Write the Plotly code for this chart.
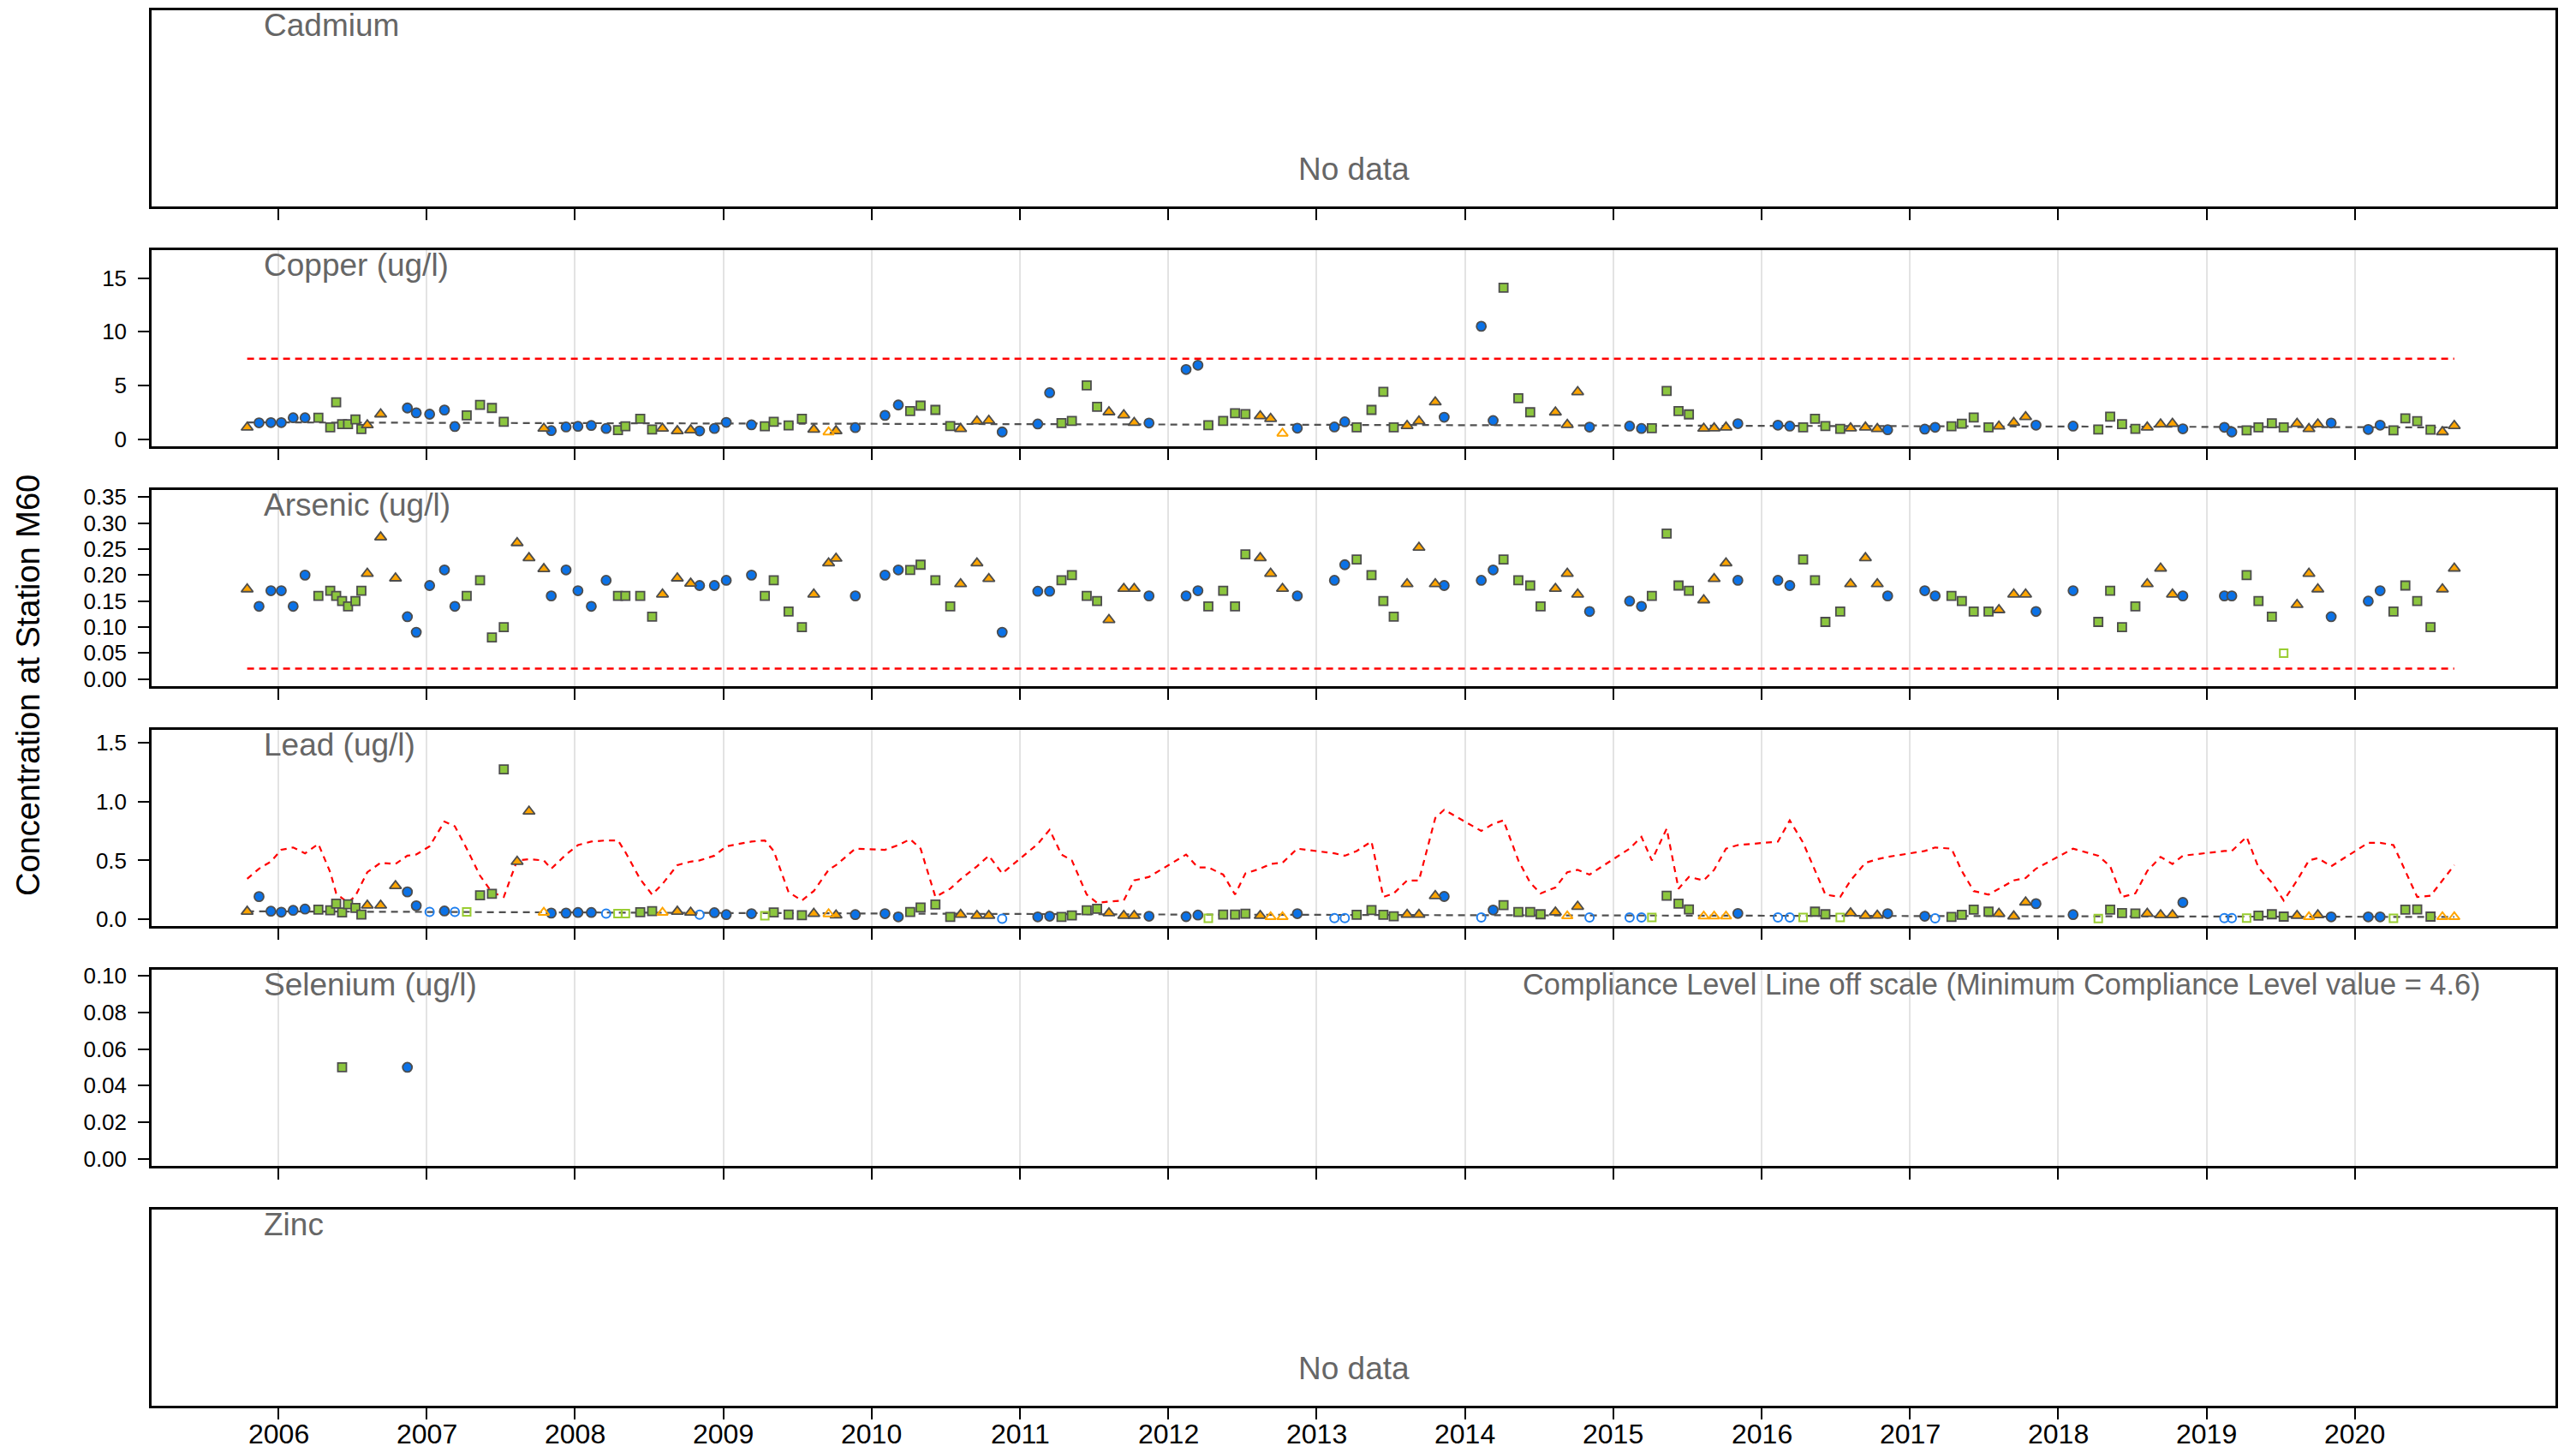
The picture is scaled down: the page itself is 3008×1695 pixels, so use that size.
import plotly.graph_objects as go

# ---------------- data ----------------
panel_names = ["Cadmium", "Copper (ug/l)", "Arsenic (ug/l)", "Lead (ug/l)", "Selenium (ug/l)", "Zinc"]
year_ticks = [2006, 2007, 2008, 2009, 2010, 2011, 2012, 2013, 2014, 2015, 2016, 2017, 2018, 2019, 2020]

dates = [2005.79, 2005.87, 2005.95, 2006.02, 2006.10, 2006.18,
         2006.27, 2006.35, 2006.39, 2006.43, 2006.47, 2006.52, 2006.56,
         2006.60, 2006.69, 2006.79,
         2006.87, 2006.93, 2007.02, 2007.12, 2007.19,
         2007.27, 2007.36, 2007.44, 2007.52,
         2007.61, 2007.69, 2007.79,
         2007.84, 2007.94, 2008.02, 2008.11, 2008.21,
         2008.29, 2008.34, 2008.44, 2008.52,
         2008.59, 2008.69, 2008.78,
         2008.84, 2008.94, 2009.02, 2009.19,
         2009.28, 2009.34, 2009.44, 2009.53,
         2009.61, 2009.71, 2009.76,
         2009.89, 2010.09, 2010.18,
         2010.26, 2010.33, 2010.43, 2010.53,
         2010.60, 2010.71, 2010.79,
         2010.88, 2011.12, 2011.20,
         2011.28, 2011.35, 2011.45, 2011.52,
         2011.60, 2011.70, 2011.77,
         2011.87, 2012.12, 2012.20,
         2012.27, 2012.37, 2012.45, 2012.52,
         2012.62, 2012.69, 2012.77,
         2012.87, 2013.12, 2013.19,
         2013.27, 2013.37, 2013.45, 2013.52,
         2013.61, 2013.69, 2013.80,
         2013.86, 2014.11, 2014.19,
         2014.26, 2014.36, 2014.44, 2014.51,
         2014.61, 2014.69, 2014.76,
         2014.84, 2015.11, 2015.19,
         2015.26, 2015.36, 2015.44, 2015.51,
         2015.61, 2015.68, 2015.76,
         2015.84, 2016.11, 2016.19,
         2016.28, 2016.36, 2016.43, 2016.53,
         2016.60, 2016.70, 2016.78,
         2016.85, 2017.10, 2017.17,
         2017.28, 2017.35, 2017.43, 2017.53,
         2017.60, 2017.70, 2017.78,
         2017.85, 2018.10,
         2018.27, 2018.35, 2018.43, 2018.52,
         2018.60, 2018.69, 2018.77,
         2018.84, 2019.12, 2019.17,
         2019.27, 2019.35, 2019.44, 2019.52,
         2019.61, 2019.69, 2019.75,
         2019.84, 2020.09, 2020.17,
         2020.26, 2020.34, 2020.42, 2020.51,
         2020.59, 2020.67]

# sample symbol: c = circle, s = square, t = triangle
sample_symbol = ("t ccccc sssssss ttt ccccc ssss ttt ccccc ssss ttt cccc ssss ttt "
                 "ccc ssss ttt ccc ssss ttt ccc ssss ttt ccc ssss ttt "
                 "ccc ssss ttt ccc ssss ttt ccc ssss ttt ccc ssss ttt "
                 "cc ssss ttt ccc ssss ttt ccc ssss tt").replace(" ", "")

copper = [1.10, 1.53, 1.55, 1.55, 2.00, 2.00,
          2.00, 1.10, 3.44, 1.40, 1.40, 1.85, 0.94,
          1.32, 2.33, None,
          2.91, 2.46, 2.33, 2.72, 1.18,
          2.22, 3.20, 2.91, 1.63,
          None, None, 1.00,
          0.80, 1.14, 1.20, 1.28, 1.00,
          0.85, 1.20, 1.91, 0.91,
          1.00, 0.77, 0.85,
          0.77, 1.00, 1.57, 1.34,
          1.20, 1.62, 1.28, 1.91,
          0.91, 0.66, 0.77,
          1.08, 2.22, 3.19,
          2.62, 3.13, 2.73, 1.22,
          0.97, 1.68, 1.74,
          0.68, 1.42, 4.33,
          1.51, 1.71, 5.01, 3.02,
          2.53, 2.25, 1.54,
          1.51, 6.49, 6.89,
          1.31, 1.71, 2.42, 2.34,
          2.16, 1.91, 0.54,
          1.03, 1.14, 1.62,
          1.11, 2.73, 4.41, 1.11,
          1.25, 1.68, 3.45,
          2.05, 10.51, 1.74,
          14.10, 3.81, 2.51, None,
          2.51, 1.35, 4.40,
          1.13, 1.22, 1.00,
          1.03, 4.50, 2.62, 2.31,
          1.00, 1.03, 1.11,
          1.45, 1.31, 1.22,
          1.11, 1.91, 1.22, 0.97,
          1.03, 1.11, 0.97,
          0.88, 0.94, 1.11,
          1.20, 1.45, 2.02, 1.11,
          1.20, 1.54, 2.08,
          1.31, 1.22,
          0.91, 2.11, 1.40, 0.97,
          1.11, 1.40, 1.45,
          0.97, 1.11, 0.68,
          0.83, 1.11, 1.48, 1.11,
          1.45, 0.97, 1.40,
          1.51, 0.91, 1.31,
          0.83, 1.94, 1.68, 0.88,
          0.68, 1.25]
copper_below_lod = [50, 81]          # sample numbers (1-based) plotted open
copper_compliance = 7.5
copper_trend_x = [2005.79, 2020.67]
copper_trend_y = [1.57, 1.10]

arsenic = [0.173, 0.140, 0.170, 0.170, 0.140, 0.200,
           0.160, 0.170, 0.160, 0.150, 0.140, 0.150, 0.170,
           0.203, 0.273, 0.194,
           0.120, 0.090, 0.180, 0.210, 0.140,
           0.160, 0.190, 0.080, 0.100,
           0.262, 0.233, 0.212,
           0.160, 0.210, 0.170, 0.140, 0.190,
           0.160, 0.160, 0.160, 0.120,
           0.163, 0.194, 0.184,
           0.180, 0.180, 0.190, 0.200,
           0.160, 0.190, 0.130, 0.100,
           0.163, 0.223, 0.232,
           0.160, 0.200, 0.210,
           0.210, 0.220, 0.190, 0.140,
           0.183, 0.223, 0.193,
           0.090, 0.169, 0.169,
           0.190, 0.200, 0.160, 0.150,
           0.114, 0.174, 0.174,
           0.160, 0.160, 0.170,
           0.140, 0.170, 0.140, 0.240,
           0.233, 0.203, 0.174,
           0.160, 0.190, 0.220,
           0.230, 0.200, 0.150, 0.120,
           0.183, 0.253, 0.183,
           0.180, 0.190, 0.210,
           0.230, 0.190, 0.180, 0.140,
           0.174, 0.203, 0.163,
           0.130, 0.150, 0.140,
           0.160, 0.280, 0.180, 0.170,
           0.152, 0.193, 0.223,
           0.190, 0.190, 0.180,
           0.230, 0.190, 0.110, 0.130,
           0.183, 0.233, 0.183,
           0.160, 0.170, 0.160,
           0.160, 0.150, 0.130, 0.130,
           0.133, 0.163, 0.163,
           0.130, 0.170,
           0.110, 0.170, 0.100, 0.140,
           0.183, 0.213, 0.163,
           0.160, 0.160, 0.160,
           0.200, 0.150, 0.120, 0.050,
           0.143, 0.203, 0.173,
           0.120, 0.150, 0.170,
           0.130, 0.180, 0.150, 0.100,
           0.173, 0.213]
arsenic_below_lod = [147]
arsenic_compliance = 0.02

lead = [0.066, 0.193, 0.069, 0.061, 0.076, 0.087,
        0.082, 0.076, 0.133, 0.058, 0.128, 0.097, 0.040,
        0.118, 0.118, 0.284,
        0.233, 0.115, 0.063, 0.071, 0.063,
        0.063, 0.204, 0.216, 1.273,
        0.490, 0.916, 0.058,
        0.053, 0.053, 0.058, 0.058, 0.048,
        0.048, 0.048, 0.061, 0.069,
        0.058, 0.066, 0.058,
        0.040, 0.056, 0.040, 0.048,
        0.030, 0.058, 0.040, 0.035,
        0.048, 0.045, 0.035,
        0.040, 0.048, 0.021,
        0.062, 0.101, 0.126, 0.021,
        0.040, 0.031, 0.031,
        0.004, 0.021, 0.026,
        0.021, 0.033, 0.077, 0.089,
        0.053, 0.031, 0.031,
        0.026, 0.023, 0.036,
        0.009, 0.040, 0.040, 0.048,
        0.031, 0.021, 0.021,
        0.048, 0.011, 0.011,
        0.038, 0.079, 0.038, 0.026,
        0.040, 0.040, 0.199,
        0.194, 0.016, 0.079,
        0.121, 0.062, 0.062, 0.043,
        0.060, 0.028, 0.108,
        0.016, 0.016, 0.016,
        0.016, 0.201, 0.133, 0.084,
        0.026, 0.026, 0.026,
        0.050, 0.016, 0.016,
        0.016, 0.065, 0.043, 0.016,
        0.053, 0.031, 0.033,
        0.048, 0.026, 0.009,
        0.021, 0.038, 0.082, 0.065,
        0.048, 0.026, 0.145,
        0.133, 0.040,
        0.006, 0.082, 0.053, 0.050,
        0.048, 0.036, 0.036,
        0.143, 0.011, 0.011,
        0.011, 0.031, 0.043, 0.023,
        0.031, 0.021, 0.036,
        0.021, 0.021, 0.021,
        0.009, 0.082, 0.084, 0.023,
        0.021, 0.021]
lead_below_lod = [19, 21, 22, 28, 33, 34, 35, 38, 41, 45, 50, 62, 75, 80, 81, 83, 84, 93,
                  100, 102, 103, 104, 105, 109, 110, 111, 113, 114, 115, 118, 124, 134,
                  142, 143, 144, 149, 154, 158, 159]
lead_compliance = [0.344, 0.43, 0.49, 0.59, 0.61, 0.56,
                   0.64, 0.40, 0.22, 0.18, 0.14, 0.20, 0.30,
                   0.40, 0.48, 0.47,
                   0.54, 0.55, 0.62, 0.83, 0.79,
                   0.60, 0.37, 0.23, 0.19,
                   0.50, 0.51, 0.50,
                   0.43, 0.55, 0.63, 0.66, 0.67,
                   0.67, 0.57, 0.34, 0.21,
                   0.30, 0.46, 0.49,
                   0.50, 0.54, 0.62, 0.66,
                   0.67, 0.58, 0.23, 0.16,
                   0.24, 0.42, 0.46,
                   0.60, 0.59, 0.63,
                   0.68, 0.60, 0.19, 0.26,
                   0.34, 0.45, 0.54,
                   0.39, 0.64, 0.76,
                   0.55, 0.50, 0.21, 0.14,
                   0.15, 0.16, 0.33,
                   0.36, 0.55, 0.44,
                   0.44, 0.38, 0.21, 0.39,
                   0.43, 0.47, 0.48,
                   0.60, 0.56, 0.54,
                   0.58, 0.66, 0.19, 0.22,
                   0.33, 0.33, 0.86,
                   0.93, 0.75, 0.81,
                   0.84, 0.50, 0.31, 0.22,
                   0.27, 0.40, 0.42,
                   0.38, 0.60, 0.70,
                   0.50, 0.77, 0.26, 0.36,
                   0.33, 0.42, 0.60,
                   0.63, 0.66, 0.84,
                   0.65, 0.41, 0.21, 0.19,
                   0.33, 0.48, 0.51,
                   0.53, 0.58, 0.61,
                   0.60, 0.41, 0.24, 0.21,
                   0.26, 0.33, 0.35,
                   0.43, 0.60,
                   0.54, 0.45, 0.19, 0.22,
                   0.41, 0.53, 0.47,
                   0.54, 0.58, 0.58,
                   0.70, 0.44, 0.31, 0.16,
                   0.33, 0.50, 0.52,
                   0.45, 0.65, 0.65,
                   0.63, 0.41, 0.19, 0.20,
                   0.33, 0.46]
lead_trend_x = [2005.79, 2008.0, 2010.0, 2012.0, 2014.0, 2016.0, 2018.0, 2020.67]
lead_trend_y = [0.068, 0.057, 0.048, 0.041, 0.035, 0.029, 0.025, 0.020]

selenium_dates = [2006.43, 2006.87]
selenium = [0.05, 0.05]
selenium_symbol = ["s", "c"]

assert len(sample_symbol) == len(dates) == len(copper) == len(arsenic) == len(lead) == len(lead_compliance)

# ---------------- styling ----------------
# the page body has an 8px default margin; the figure is sized so that it fills the window exactly
BODY = 8
W, H = 3008 - BODY, 1695 - BODY
ML, MR, MT, MB = 177 - BODY, 24, 11.5 - BODY, 53.5
PW, PH = W - ML - MR, H - MT - MB
X_RANGE = [2005.1455, 2021.352]
FONT = "Liberation Sans, Arial, Helvetica, sans-serif"
GREY_TXT = "#666666"
FILL = {"c": "#0B72E7", "s": "#8CC63E", "t": "#FFA500"}
OPEN = {"c": "#1E7FEF", "s": "#9ACD32", "t": "#FFA500"}
SYM = {"c": "circle", "s": "square", "t": "triangle-up"}
SIZE = {"c": 11, "s": 10, "t": 12}
EDGE = "#4D4D4D"

# panel tops in window pixels
panel_top_px = [11.5 + 280.1 * k for k in range(6)]
panel_h_px = 229.5


def py(px):
    # window pixel -> paper y
    return (H + BODY - MB - px) / PH


def clamp(v):
    return min(1.0, max(0.0, v))


def pxx(px):
    # window pixel -> paper x
    return (px - BODY - ML) / PW


fig = go.Figure()


def add_points(k, xs_all, ys_all, syms, below):
    for kind in "cst":
        for is_open in (False, True):
            xs, ys = [], []
            for i, (x, y, s) in enumerate(zip(xs_all, ys_all, syms)):
                if y is None or s != kind:
                    continue
                if ((i + 1) in below) != is_open:
                    continue
                xs.append(x)
                ys.append(y)
            if not xs:
                continue
            if is_open:
                marker = dict(symbol=SYM[kind] + "-open", size=SIZE[kind] - 1, color=OPEN[kind],
                              line=dict(width=2, color=OPEN[kind]))
            else:
                marker = dict(symbol=SYM[kind], size=SIZE[kind], color=FILL[kind],
                              line=dict(width=1.8, color=EDGE))
            fig.add_trace(go.Scatter(x=xs, y=ys, mode="markers", marker=marker,
                                     xaxis=f"x{k}", yaxis=f"y{k}", showlegend=False, cliponaxis=False))


def add_line(k, xs, ys, color, width=2.5, dash="8px,6px"):
    fig.add_trace(go.Scatter(x=xs, y=ys, mode="lines", line=dict(color=color, width=width, dash=dash),
                             xaxis=f"x{k}", yaxis=f"y{k}", showlegend=False, hoverinfo="skip"))


# empty panels still need a trace so their axes are drawn
for k in (1, 6):
    fig.add_trace(go.Scatter(x=[None], y=[None], mode="markers", xaxis=f"x{k}", yaxis=f"y{k}",
                             showlegend=False, hoverinfo="skip"))
# Copper (panel 2)
add_line(2, [dates[0], dates[-1]], [copper_compliance, copper_compliance], "#FF0000")
add_line(2, copper_trend_x, copper_trend_y, "#505050", 2.2)
add_points(2, dates, copper, sample_symbol, copper_below_lod)
# Arsenic (panel 3)
add_line(3, [dates[0], dates[-1]], [arsenic_compliance, arsenic_compliance], "#FF0000")
add_points(3, dates, arsenic, sample_symbol, arsenic_below_lod)
# Lead (panel 4)
add_line(4, dates, lead_compliance, "#FF0000", 2.2, "7px,6px")
add_line(4, lead_trend_x, lead_trend_y, "#505050", 2.2)
add_points(4, dates, lead, sample_symbol, lead_below_lod)
# Selenium (panel 5)
add_points(5, selenium_dates, selenium, selenium_symbol, [])

y_cfg = {
    1: dict(range=[0, 1], showticklabels=False, ticks=""),
    2: dict(range=[-0.68, 17.6], tickvals=[0, 5, 10, 15]),
    3: dict(range=[-0.014, 0.364], tickvals=[0, 0.05, 0.1, 0.15, 0.2, 0.25, 0.3, 0.35], tickformat=".2f"),
    4: dict(range=[-0.058, 1.61], tickvals=[0, 0.5, 1.0, 1.5], tickformat=".1f"),
    5: dict(range=[-0.0039, 0.1035], tickvals=[0, 0.02, 0.04, 0.06, 0.08, 0.1], tickformat=".2f"),
    6: dict(range=[0, 1], showticklabels=False, ticks=""),
}

layout = dict(
    width=W, height=H, paper_bgcolor="white", plot_bgcolor="white",
    margin=dict(l=ML, r=MR, t=MT, b=MB, pad=0, autoexpand=False), showlegend=False,
    font=dict(family=FONT, color="black"),
)
for k in range(1, 7):
    top = panel_top_px[k - 1]
    dom = [clamp(py(top + panel_h_px)), clamp(py(top))]
    has_data = k in (2, 3, 4, 5)
    layout[f"xaxis{k}" if k > 1 else "xaxis"] = dict(
        domain=[0, 1], range=X_RANGE, anchor=f"y{k}" if k > 1 else "y", automargin=False,
        tickvals=year_ticks, showticklabels=False,
        ticks="outside", ticklen=13, tickwidth=2, tickcolor="black",
        showgrid=has_data, gridcolor="#E3E3E3", gridwidth=1.6, zeroline=False,
        showline=True, mirror=True, linecolor="black", linewidth=2.5,
    )
    yc = dict(
        domain=dom, anchor=f"x{k}" if k > 1 else "x", automargin=False,
        ticks="outside", ticklen=13, tickwidth=2, tickcolor="black",
        tickfont=dict(size=26, color="black", family=FONT), ticklabelstandoff=8,
        showgrid=False, zeroline=False,
        showline=True, mirror=True, linecolor="black", linewidth=2.5,
    )
    yc.update(y_cfg[k])
    layout[f"yaxis{k}" if k > 1 else "yaxis"] = yc

annotations = []
# year labels under the bottom panel, placed on the bottom panel's x scale
for yr in year_ticks:
    annotations.append(dict(text=str(yr), xref="x6", yref="paper", x=yr, y=py(1675),
                            xanchor="center", yanchor="middle", showarrow=False,
                            font=dict(size=32, color="black", family=FONT)))
for k, name in enumerate(panel_names):
    top = panel_top_px[k]
    annotations.append(dict(text=name, xref="paper", yref="paper", x=pxx(306), y=py(top + 17.5),
                            xanchor="left", yanchor="middle", showarrow=False,
                            font=dict(size=37, color=GREY_TXT, family=FONT)))
for k in (0, 5):
    top = panel_top_px[k]
    annotations.append(dict(text="No data", xref="paper", yref="paper", x=0.5, y=py(top + 186),
                            xanchor="center", yanchor="middle", showarrow=False,
                            font=dict(size=37, color=GREY_TXT, family=FONT)))
annotations.append(dict(text="Compliance Level Line off scale (Minimum Compliance Level value = 4.6)",
                        xref="paper", yref="paper", x=pxx(2899), y=py(panel_top_px[4] + 17.5),
                        xanchor="right", yanchor="middle", showarrow=False,
                        font=dict(size=34.4, color=GREY_TXT, family=FONT)))
annotations.append(dict(text="Concentration at Station M60", xref="paper", yref="paper",
                        x=pxx(33), y=py(800), xanchor="center", yanchor="middle", textangle=-90,
                        showarrow=False, font=dict(size=38, color="black", family=FONT)))
layout["annotations"] = annotations

fig.update_layout(**layout)
fig.write_html("out.html")
